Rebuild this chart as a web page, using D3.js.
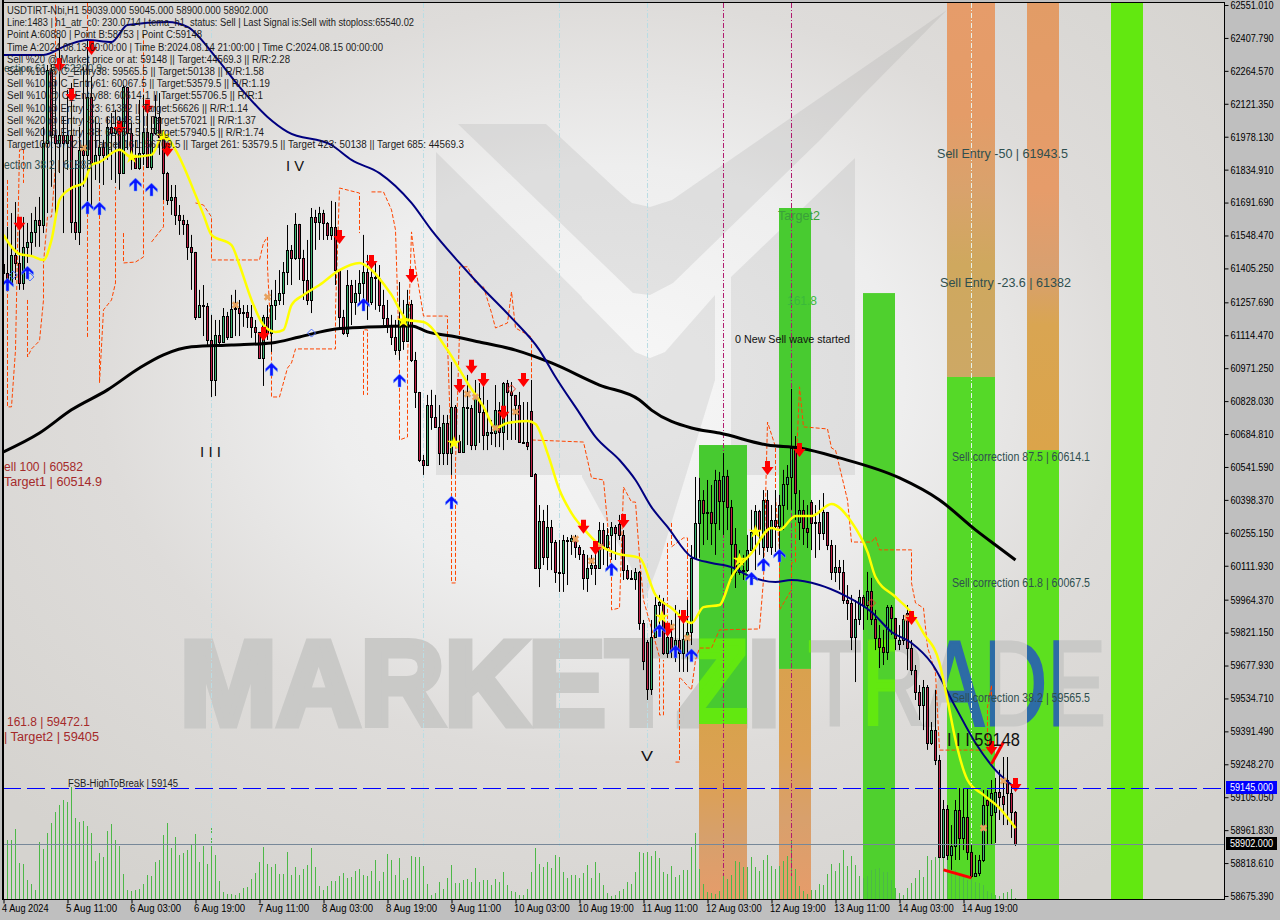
<!DOCTYPE html>
<html><head><meta charset="utf-8">
<script src="https://cdnjs.cloudflare.com/ajax/libs/d3/7.8.5/d3.min.js"></script>
<style>html,body{margin:0;padding:0;background:#bfbfbf}svg{display:block}text{font-family:"Liberation Sans",sans-serif}</style>
</head><body><svg id="c" width="1280" height="920"></svg>
<script>
const closes=[61385,61342,61464,61429,61342,61499,61520,61564,61616,61594,61951,62268,61986,61951,61986,61951,61986,61607,61564,61921,61899,62151,61864,61899,61934,61899,62021,61994,62021,61820,62195,61994,61890,61842,61907,61999,61847,61994,62064,61977,61820,61703,61716,61638,61616,61599,61499,61477,61194,61246,61242,61094,60920,61116,61085,61198,61107,61229,61233,61211,61216,61194,61151,61129,61016,61194,61124,61246,61268,61298,61390,61486,61451,61599,61451,61355,61268,61629,61607,61646,61603,61551,61586,61398,61194,61124,61333,61259,61298,61342,61390,61259,61368,61364,61246,61190,61159,61107,61051,61181,61090,61251,61007,60868,60572,60550,60811,60759,60716,60602,60733,60602,60803,60655,60607,60803,60798,60637,60842,60781,60681,60694,60689,60789,60694,60907,60868,60855,60811,60650,60650,60633,60502,60102,60307,60150,60281,60215,60085,60080,60224,60220,60233,60194,60163,60059,60102,60115,60102,60267,60194,60246,60281,60254,60246,60093,60059,60054,60085,59863,59698,59576,59802,59941,59954,59732,59802,59745,59789,59732,59793,59824,60146,60298,60398,60341,60346,60298,60485,60394,60502,60368,60207,60085,60093,60093,60180,60259,60350,60267,60398,60194,60311,60285,60376,60468,60498,60624,60428,60355,60276,60259,60298,60302,60254,60346,60202,60085,60106,60085,59963,59950,59802,59880,59976,59941,60002,59880,59798,59759,59737,59933,59885,59798,59789,59880,59754,59658,59563,59506,59585,59341,59397,59267,58845,59054,58854,58893,59050,58928,59019,58867,58762,58775,58832,59071,59071,59123,59128,59106,59076,59123,59041,58902];
const highs=[61499,61586,61646,61694,61603,61629,61603,61646,61673,61716,62021,62290,62290,62225,62412,62064,62182,62212,61877,62021,62282,62399,62238,62064,62038,61964,62064,62081,62095,62064,62203,62138,62038,61964,62138,62160,62138,62064,62160,62168,61977,61825,61768,61768,61681,61638,61616,61551,61464,61312,61333,61255,61203,61181,61181,61233,61216,61290,61312,61268,61246,61246,61246,61181,61124,61203,61246,61312,61355,61398,61433,61594,61507,61646,61594,61486,61529,61668,61660,61673,61660,61607,61699,61694,61398,61225,61398,61355,61355,61398,61551,61464,61433,61433,61420,61312,61268,61203,61181,61346,61268,61312,61268,61042,60868,60594,60855,60877,60855,60811,60768,60768,60998,60811,60681,60877,60942,60811,60920,60907,60920,60833,60746,60898,60824,60911,60920,60911,60855,60868,60824,60824,60920,60515,60376,60355,60376,60311,60224,60224,60246,60237,60246,60246,60202,60180,60159,60159,60224,60302,60298,60276,60302,60289,60333,60267,60115,60093,60102,60089,59876,59789,59876,59976,59985,59972,59854,59876,59941,59920,59876,59963,60202,60498,60494,60441,60485,60463,60529,60520,60602,60529,60398,60276,60180,60159,60246,60355,60376,60355,60441,60441,60376,60441,60420,60529,60550,60881,60676,60441,60398,60376,60398,60376,60398,60428,60333,60224,60202,60137,60137,60028,59985,59963,60007,59985,60085,60059,59920,59854,59833,59941,59941,59885,59854,59898,59941,59789,59680,59593,59615,59593,59432,59572,59289,59093,59071,58984,59093,59145,59145,59145,58897,58854,58854,59136,59136,59180,59189,59224,59280,59280,59158,59045];
const lows=[61325,61312,61368,61355,61312,61312,61429,61455,61499,61499,61559,61646,61760,61629,61820,61559,61834,61559,61529,61507,61760,61660,61673,61790,61777,61768,61877,61790,61777,61747,62008,61921,61834,61855,61834,61855,61877,61834,61986,61899,61703,61681,61638,61594,61551,61551,61442,61312,61181,61190,61111,61064,60846,60850,61072,61094,61094,61107,61111,61111,61151,61146,61103,61072,61011,60894,61094,61042,61181,61246,61246,61333,61333,61442,61355,61268,61246,61211,61486,61529,61529,61529,61529,61333,61138,61116,61107,61159,61203,61246,61268,61181,61246,61225,61216,61159,61124,61072,61029,61007,61051,61085,60998,60798,60563,60507,60637,60703,60716,60550,60550,60550,60507,60637,60607,60607,60637,60615,60615,60646,60615,60615,60637,60628,60628,60615,60659,60659,60659,60646,60650,60615,60502,60102,60019,60115,60093,60093,60037,59998,59998,60028,60159,60146,60137,60007,59998,60072,60028,60106,60115,60093,60137,60137,60224,60050,60050,60050,60007,59833,59658,59528,59550,59806,59854,59724,59711,59711,59693,59650,59650,59650,59767,60146,60146,60202,60224,60202,60159,60267,60246,60267,60050,60015,60072,60050,60085,60180,60093,60159,60093,60172,60159,60172,60172,60267,60355,60355,60311,60224,60202,60189,60180,60146,60180,60224,60180,60050,60041,60007,59946,59876,59745,59606,59854,59833,59876,59854,59745,59667,59680,59702,59811,59745,59745,59767,59658,59636,59528,59441,59397,59311,59332,59245,58841,58841,58832,58789,58832,58832,58875,58832,58754,58762,58762,58823,58897,58897,58906,59006,58984,58984,58928,58893];
const gapBars=[132,133,154,161,190,199,202,224,226,246,247,248,250,251];
const gapOpens=[60785,60511,60294,59780,60194,60302,60389,59772,59906,59093,59028,59041,59110,59180];
const volumes=[43,59,59,70,36,35,19,15,9,57,50,66,76,87,94,99,97,112,81,77,78,73,66,38,46,42,68,75,59,53,25,9,8,9,10,15,24,23,37,39,64,76,51,62,44,46,49,55,65,37,53,35,71,44,18,7,5,5,4,6,11,12,20,26,37,52,35,32,35,25,25,47,24,32,24,30,34,51,32,13,9,13,18,18,23,26,21,22,28,30,24,23,28,39,18,27,45,39,24,41,19,21,43,42,42,33,15,4,6,17,10,21,34,16,16,19,20,17,31,17,19,19,14,20,17,27,14,8,7,4,4,10,27,51,35,32,37,31,44,42,27,21,24,24,21,26,34,21,37,26,14,6,3,4,8,10,17,15,27,47,46,47,43,48,41,27,25,33,22,24,29,29,52,66,30,15,7,6,5,8,25,20,24,38,37,32,32,42,32,28,39,44,33,30,33,38,43,59,30,13,8,5,9,9,15,14,25,35,28,36,49,33,43,34,23,21,23,29,30,31,27,27,19,11,6,4,11,16,21,29,22,43,39,42,42,42,41,36,29,26,22,19,21,17,16,14,8,6,4,3,6,7,10,1];
const yellowBars=[0,2,4,7,10,12,14,17,20,22,24,29,32,37,40,43,48,50,52,57,59,62,65,68,70,72,75,79,84,89,92,97,101,105,111,116,120,123,126,131,133,136,139,142,146,149,153,159,163,167,172,175,179,182,187,192,194,198,202,207,212,216,218,223,227,230,234,236,238,241,245,249,253];
const yellowPrices=[61551,61499,61468,61459,61442,61529,61703,61755,61777,61855,61868,61921,61890,61899,61986,61921,61725,61638,61551,61507,61420,61268,61159,61129,61138,61246,61290,61333,61398,61429,61398,61290,61181,61172,61050,60907,60803,60711,60733,60742,60729,60602,60441,60341,60254,60202,60167,60146,59985,59928,59863,59932,59941,60063,60167,60276,60267,60328,60328,60381,60302,60172,60063,59976,59906,59819,59689,59528,59354,59180,59115,59058,58971];
const navyBars=[0,10,16,21,27,31,41,46,53,59,66,71,82,87,94,102,107,114,119,127,134,138,144,148,154,158,162,166,172,177,182,187,193,197,204,210,217,222,227,232,238,243,248,253];
const navyPrices=[62334,62334,62377,62399,62390,62464,62477,62456,62325,62195,62064,61999,61942,61877,61820,61690,61572,61429,61333,61190,61050,60933,60776,60672,60572,60485,60367,60281,60150,60124,60106,60063,60041,60050,60028,59985,59911,59824,59776,59689,59497,59341,59223,59145];
const blackBars=[0,9,17,26,34,40,47,57,67,74,83,91,102,106,112,119,128,137,149,159,162,172,179,191,199,209,224,234,243,249,253];
const blackPrices=[60607,60689,60790,60877,60972,61029,61064,61072,61081,61107,61142,61150,61155,61129,61111,61085,61050,60994,60898,60833,60789,60711,60689,60637,60624,60581,60494,60398,60268,60189,60137];
const dashSegments=[
 [[1,61790],[1,61268],[1,60803],[2,60803],[3,61050],[4,61921],[5,61921],[5,61777]],
 [[6,61268],[6,61020],[7,61055],[9,61090],[10,61268],[10,61429],[11,61629],[12,61629],[13,61847],[13,62560]],
 [[21,62560],[21,61107]],
 [[24,61820],[24,60907],[25,61225],[27,61268],[28,61342],[28,61760]],
 [[30,61559],[30,61429],[33,61433],[35,61455],[35,62429]],
 [[37,61520],[40,61586],[40,61847]],
 [[48,61690],[50,61681],[52,61629],[52,61442],[64,61442],[65,61516],[66,61542],[66,61412],[67,61064],[67,60846],[69,60846],[71,60972],[72,60994],[73,61055],[83,61055],[83,61225],[84,61755],[89,61733],[89,61559]],
 [[90,60855],[90,61138],[91,61138],[91,60855]],
 [[92,61738],[95,61738],[97,61660],[98,61573],[99,61007],[99,60659],[101,60672],[101,61007],[102,61564],[103,61412],[105,61198],[111,61198],[111,61081],[112,60572],[112,60181],[112,60037],[113,60037],[113,60559],[114,61124],[114,61412],[116,61412],[118,61342],[120,61325],[122,61212],[123,61146],[126,61168],[127,61303],[128,61146],[132,61107],[132,61007],[132,60659],[145,60650],[147,60494],[150,60485],[151,60298],[152,60080],[152,59920],[154,59928],[155,60454],[157,60389],[158,60389],[159,60150],[160,59963],[164,59715],[164,59463],[165,59463],[165,59702]],
 [[166,60211],[166,59846]],
 [[167,60298],[167,60194],[170,60233],[171,60233],[171,59833]],
 [[168,59258],[169,59258],[169,59628],[172,59571],[173,59702],[174,59754],[177,59754],[179,59833],[189,59837],[190,60050],[191,60737],[193,60629],[193,60411],[194,60181],[194,59920],[197,60007],[197,60124],[198,60128],[198,60472],[199,60890],[200,60716],[206,60707],[207,60624],[208,60615],[211,60398],[212,60215],[217,60215],[218,60237],[219,60181],[227,60181],[227,60037],[228,59950],[230,59928],[231,59758],[233,59645],[234,59310],[246,59310],[246,59497],[247,59593],[247,59541]]
];
const sellArrowBars=[4,22,17,14,36,29,41,84,92,102,65,117,114,120,130,125,145,148,155,191,199,247,253,166,227,170];
const sellArrowPrices=[61599,62364,62160,62290,62108,62016,61921,61542,61433,61372,61120,60977,60894,60920,60920,60777,60281,60189,60307,60537,60615,59319,59158,59833,59885,59889];
const buyArrowBars=[1,6,21,24,33,37,67,90,99,112,152,164,168,172,187,190,194];
const buyArrowPrices=[61333,61385,61668,61664,61768,61746,60964,61246,60916,60385,60094,59828,59737,59720,60054,60115,60154];
const starBars=[32,40,100,112.6,164.6,184,188];
const starPrices=[61890,61981,61177,60646,59889,60137,60259];
const crossBars=[20,58,66,116,118,128,123,143,149,147,167,171,226,245,250];
const crossPrices=[61929,61246,61281,60859,60846,60781,60711,60228,60194,60133,59846,59798,59885,58971,59176];
const hollowBuyBars=[2.4,6.6,77];
const hollowBuyPrices=[61377,61368,61124];
const hollowSellBars=[127,217];
const hollowSellPrices=[60881,59950];
const trendA=[[247,59250],[250,59345]];
const trendB=[[235,58789],[242,58754]];
const zoneStart=[174,194,215,236,256,277];
const zoneEnd=[186,202,223,248,264,285];
const zoneTop=[60637,61668,61298,62551,62551,62551];
const zoneSplit=[59424,59663,58662,60933,60615,62570];
const zoneOrder=[0,0,0,1,1,1];
const infoLines=["USDTIRT-Nbi,H1  59039.000 59045.000 58900.000 58902.000",
"Line:1483 | h1_atr_c0: 230.0714 | tema_h1_status: Sell | Last Signal is:Sell with stoploss:65540.02",
"Point A:60880 | Point B:58753 | Point C:59148",
"Time A:2024.08.13 00:00:00 | Time B:2024.08.14 21:00:00 | Time C:2024.08.15 00:00:00",
"Sell %20 @ Market price or at: 59148 || Target:44569.3 || R/R:2.28",
"Sell %10 @ C_Entry38: 59565.5 || Target:50138 || R/R:1.58",
"Sell %10 @ C_Entry61: 60067.5 || Target:53579.5 || R/R:1.19",
"Sell %10 @ C_Entry88: 60614.1 || Target:55706.5 || R/R:1",
"Sell %10 @ Entry -23: 61382 || Target:56626 || R/R:1.14",
"Sell %20 @ Entry -50: 61943.5 || Target:57021 || R/R:1.37",
"Sell %20 @ Entry -88: 62654.5 || Target:57940.5 || R/R:1.74",
"Target100: 57021 || Target 161: 56709.5 || Target 261: 53579.5 || Target 423: 50138 || Target 685: 44569.3"];
const infoWidths=[261,407,195,376,283,257,263,256,241,249,257,457];
const priceTicks=[62551.01,62407.79,62264.57,62121.35,61978.13,61834.91,61691.69,61548.47,61405.25,61257.69,61114.47,60971.25,60828.03,60684.81,60541.59,60398.37,60255.15,60111.93,59964.37,59821.15,59677.93,59534.71,59391.49,59248.27,59105.05,58961.83,58818.61,58675.39];
const timeBars=[0,16,32,48,64,80,96,112,128,144,160,176,192,208,224,240];
const timeLabels=["4 Aug 2024","5 Aug 11:00","6 Aug 03:00","6 Aug 19:00","7 Aug 11:00","8 Aug 03:00","8 Aug 19:00","9 Aug 11:00","10 Aug 03:00","10 Aug 19:00","11 Aug 11:00","12 Aug 03:00","12 Aug 19:00","13 Aug 11:00","14 Aug 03:00","14 Aug 19:00"];
const infoBar=[52,105,139,161,242];
const magentaBars=[180,197];

const L=3,T=3,R=1224,B=899;
const svg=d3.select("#c");
const x=d3.scaleLinear().domain([0,305]).range([3.5,1223.5]);
const y=d3.scaleLinear().domain([58675.39,62551.01]).range([896,5]);
const vol=d3.scaleLinear().domain([0,100]).range([B,B-100]);
const defs=svg.append("defs");
const g=defs.append("radialGradient").attr("id","bg").attr("cx",.5).attr("cy",.42).attr("r",.68);
[[0,"#f7f7f7"],[.35,"#eeeeee"],[.62,"#dedcda"],[1,"#d5d3cf"]].forEach(s=>g.append("stop").attr("offset",s[0]).attr("stop-color",s[1]));
function oGrad(id,stops){const o=defs.append("linearGradient").attr("id",id).attr("x1",0).attr("y1",0).attr("x2",0).attr("y2",1);
 stops.forEach(s=>o.append("stop").attr("offset",s[0]).attr("stop-color",s[1]));}
oGrad("o0",[[0,"#d8a24d"],[.35,"#dca055"],[.65,"#d6a06c"],[1,"#e69c6a"]]);
oGrad("o1",[[0,"#d9a14e"],[.35,"#dca055"],[.65,"#d8a06c"],[1,"#e69c6a"]]);
oGrad("o2",[[0,"#e69c6a"],[.3,"#e49c68"],[.5,"#d9a26c"],[.7,"#cfa85e"],[1,"#cda865"]]);
oGrad("o3",[[0,"#e29c66"],[.42,"#e69c6a"],[.6,"#d8a070"],[.72,"#d9a552"],[1,"#dba44a"]]);
defs.append("clipPath").attr("id","plot").append("rect").attr("x",L).attr("y",T).attr("width",R-L).attr("height",B-T);
const zoneW=i=>x(zoneEnd[i])-x(zoneStart[i]);
const greenCols=["#47ca30","#48cb30","#4fd02e","#55d928","#5de01f","#62e810"];
const cpGreen=defs.append("clipPath").attr("id","cGreen");
const cpBlue=defs.append("clipPath").attr("id","cBlue");
[0,1,2].forEach(i=>cpGreen.append("rect").attr("x",x(zoneStart[i])-.5).attr("y",y(zoneTop[i])).attr("width",zoneW(i)).attr("height",y(zoneSplit[i])-y(zoneTop[i])));
[3,4].forEach(i=>cpBlue.append("rect").attr("x",x(zoneStart[i])-.5).attr("y",y(zoneSplit[i])).attr("width",zoneW(i)).attr("height",B-y(zoneSplit[i])));

svg.append("rect").attr("width",1280).attr("height",920).attr("fill","#bfbfbf");
const plot=svg.append("g").attr("clip-path","url(#plot)");
plot.append("rect").attr("x",L).attr("y",T).attr("width",R-L).attr("height",B-T).attr("fill","url(#bg)");

// watermark logo
const logo=plot.append("g").attr("fill","rgba(140,140,140,.17)");
[[[458,124],[546,124],[617,190],[632,203],[650,207],[672,200],[947,10],[860,98],[820,140],[673,283],[650,295],[633,293]],
 [[436,152],[582,297],[582,475],[436,475]],
 [[731,277],[855,158],[855,475],[731,475]],
 [[582,298],[635,352],[650,358],[665,352],[715,295],[715,380],[660,560],[645,600],[630,565],[582,477]]
].forEach(p=>logo.append("polygon").attr("points",p.map(q=>q.join(",")).join(" ")));
function wm(parent,fill,clip){
 const h=parent.append("g"); if(clip)h.attr("clip-path","url(#"+clip+")");
 h.append("text").attr("x",180).attr("y",725).attr("font-size",120).attr("font-weight",700).attr("fill",fill).attr("stroke",fill).attr("stroke-width",7).attr("stroke-linejoin","miter")
  .attr("textLength",600).attr("lengthAdjust","spacingAndGlyphs").text("MARKETZI");
 h.append("text").attr("x",808).attr("y",725).attr("font-size",121).attr("fill",fill).attr("stroke",fill).attr("stroke-width",3)
  .attr("textLength",298).attr("lengthAdjust","spacingAndGlyphs").text("TRADE");
}
wm(plot,"#c9c9c7");

// zones
zoneStart.forEach((s,i)=>{
 const xx=x(s)-.5,w=zoneW(i);
 const t=y(zoneTop[i]), sp=y(zoneSplit[i]);
 if(zoneOrder[i]===0){
  plot.append("rect").attr("x",xx).attr("y",t).attr("width",w).attr("height",sp-t).attr("fill",greenCols[i]);
  if(i<2)plot.append("rect").attr("x",xx).attr("y",sp).attr("width",w).attr("height",B-sp).attr("fill","url(#o"+i+")");
 }else{
  if(i<5)plot.append("rect").attr("x",xx).attr("y",t-3).attr("width",w).attr("height",sp-t+3).attr("fill","url(#o"+(i-1)+")");
  plot.append("rect").attr("x",xx).attr("y",sp).attr("width",w).attr("height",B-sp).attr("fill",greenCols[i]);
 }
});
wm(plot,"#62e810","cGreen");
wm(plot,"#2d6ca5","cBlue");

// volumes
plot.append("g").selectAll("line").data(volumes).join("line")
 .attr("x1",(d,i)=>x(i)).attr("x2",(d,i)=>x(i)).attr("y1",vol(0)).attr("y2",d=>vol(d))
 .attr("stroke","#4db848").attr("stroke-width",1);

// vertical markers
plot.append("g").selectAll("line").data(infoBar).join("line")
 .attr("x1",d=>x(d)).attr("x2",d=>x(d)).attr("y1",T).attr("y2",846)
 .attr("stroke",d=>d===242?"#e6f2ec":"#b9dde4").attr("stroke-width",1).attr("stroke-dasharray","5,2,1,2");
plot.append("g").selectAll("line").data(magentaBars).join("line")
 .attr("x1",d=>x(d)).attr("x2",d=>x(d)).attr("y1",T).attr("y2",876)
 .attr("stroke","#b01a6e").attr("stroke-width",1).attr("stroke-dasharray","5,2,1,2");

// dashed envelope
const dl=d3.line().x(d=>x(d[0])).y(d=>y(d[1]));
plot.append("g").selectAll("path").data(dashSegments).join("path").attr("d",dl)
 .attr("fill","none").attr("stroke","#ff4500").attr("stroke-width",1).attr("stroke-dasharray","4,2");

// candles
const opens=closes.map((c,i)=>{const k=gapBars.indexOf(i);return k>=0?gapOpens[k]:(i?closes[i-1]:closes[0]+40);});
const cg=plot.append("g");
cg.selectAll("line").data(closes).join("line")
 .attr("x1",(d,i)=>x(i)).attr("x2",(d,i)=>x(i))
 .attr("y1",(d,i)=>y(Math.max(highs[i],d,opens[i]))).attr("y2",(d,i)=>y(Math.min(lows[i],d,opens[i])))
 .attr("stroke","#000").attr("stroke-width",1);
cg.selectAll("rect").data(closes).join("rect")
 .attr("x",(d,i)=>x(i)-1).attr("width",2)
 .attr("y",(d,i)=>Math.round(y(Math.max(d,opens[i])))+.5)
 .attr("height",(d,i)=>Math.max(1,Math.round(Math.abs(y(d)-y(opens[i])))))
 .attr("fill",(d,i)=>d>=opens[i]?"#3cb371":"#c01f45").attr("stroke","#000").attr("stroke-width",1);

// averages
function avg(bars,vals,col,w){
 const ln=d3.line().x(d=>x(d[0])).y(d=>y(d[1])).curve(d3.curveMonotoneX);
 plot.append("path").attr("d",ln(bars.map((b,i)=>[b,vals[i]]))).attr("fill","none").attr("stroke",col).attr("stroke-width",w);
}
avg(blackBars,blackPrices,"#000",3);
avg(navyBars,navyPrices,"#000080",2);
avg(yellowBars,yellowPrices,"#ffff00",2.5);

[trendA,trendB].forEach(t=>plot.append("path").attr("d",dl(t)).attr("stroke","#ff0000").attr("stroke-width",3).attr("fill","none"));

// signals
const at=(b,p)=>`translate(${x(b)},${y(p)})`;
plot.append("g").selectAll("path").data(crossBars).join("path")
 .attr("d",d3.symbol(d3.symbolCross,34)()).attr("transform",(d,i)=>at(d,crossPrices[i])+" rotate(45)").attr("fill","#e8a25e");
plot.append("g").selectAll("path").data(starBars).join("path")
 .attr("d",d3.symbol(d3.symbolStar,60)()).attr("transform",(d,i)=>at(d,starPrices[i])).attr("fill","#ffff00");
plot.append("g").selectAll("path").data(hollowBuyBars).join("path")
 .attr("d","M0,-4L4,0L0,4L-4,0Z").attr("transform",(d,i)=>at(d,hollowBuyPrices[i])).attr("fill","none").attr("stroke","#4a6cff");
plot.append("g").selectAll("path").data(hollowSellBars).join("path")
 .attr("d","M0,-4L4,0L0,4L-4,0Z").attr("transform",(d,i)=>at(d,hollowSellPrices[i])).attr("fill","none").attr("stroke","#e8402a");
plot.append("g").selectAll("path").data(sellArrowBars).join("path")
 .attr("d","M-2.5,-7H2.5V-1H6L0,7L-6,-1H-2.5Z").attr("transform",(d,i)=>at(d,sellArrowPrices[i])).attr("fill","#ff0000");
plot.append("g").selectAll("path").data(buyArrowBars).join("path")
 .attr("d","M0,-7L6,-1V2L1.5,-2V6H-1.5V-2L-6,2V-1Z").attr("transform",(d,i)=>at(d,buyArrowPrices[i])).attr("fill","#0a14ff").attr("stroke","#6fa8ff").attr("stroke-width",.5);

// levels
plot.append("line").attr("x1",L).attr("x2",R).attr("y1",Math.round(y(59145))+.5).attr("y2",Math.round(y(59145))+.5)
 .attr("stroke","#0000ff").attr("stroke-width",1).attr("stroke-dasharray","18,6");
plot.append("line").attr("x1",L).attr("x2",R).attr("y1",Math.round(y(58902))+.5).attr("y2",Math.round(y(58902))+.5)
 .attr("stroke","#778899").attr("stroke-width",1);

// annotations
function label(t,px,py,size,col,w){
 const e=plot.append("text").attr("x",px).attr("y",py).attr("font-size",size).attr("fill",col).text(t);
 if(w)e.attr("textLength",w).attr("lengthAdjust","spacingAndGlyphs");
}
label("ection 61.8 | 62200.9",4,72,11.5,"#2f4f4f",98);
label("ection 38.2 | 61885",4,169,12.5,"#2f4f4f",88);
label("I V",286,171,14,"#111",18);
label("I I I",200,457,14,"#111",21);
label("V",641,761,14,"#111",12);
label("ell 100 | 60582",4,471,12.5,"#a52a2a",79);
label("Target1 | 60514.9",4,486,12.5,"#a52a2a",98);
label("161.8 | 59472.1",7,726,12.5,"#a52a2a",83);
label("| Target2 | 59405",4,741,12.5,"#a52a2a",95);
label("FSB-HighToBreak  | 59145",68,787,10,"#222",110);
label("0 New Sell wave started",735,343,11.5,"#111",115);
label("Target2",778,220,12.5,"#3aa03a",42);
label("161.8",787,305,12.5,"#3aba3a",30);
label("Sell Entry -50 | 61943.5",937,158,13.5,"#2f4f4f",131);
label("Sell Entry -23.6 | 61382",940,287,13.5,"#2f4f4f",131);
label("Sell correction 87.5 | 60614.1",952,461,12,"#2f4f4f",138);
label("Sell correction 61.8 | 60067.5",952,587,12,"#2f4f4f",138);
label("Sell correction 38.2 | 59565.5",952,702,12,"#2f4f4f",138);
label("I I I 59148",947,746,18,"#111",73);
infoLines.forEach((t,i)=>label(t,7,14+i*12.2,10,"#1c1c1c",infoWidths[i]));

// frame
svg.append("rect").attr("x",2).attr("y",0).attr("width",2).attr("height",B).attr("fill","#000");
svg.append("line").attr("x1",2).attr("x2",R).attr("y1",2.5).attr("y2",2.5).attr("stroke","#000");
svg.append("line").attr("x1",2).attr("x2",R+.5).attr("y1",B+.5).attr("y2",B+.5).attr("stroke","#000");
svg.append("line").attr("x1",R+.5).attr("x2",R+.5).attr("y1",2).attr("y2",B+1).attr("stroke","#000");

// axes
const yAxis=d3.axisRight(y).tickValues(priceTicks).tickSize(4).tickFormat(d3.format(".3f"));
const ya=svg.append("g").attr("transform",`translate(${R+.5},0)`).call(yAxis);
ya.select(".domain").remove();
ya.selectAll("line").attr("stroke","#000");
ya.selectAll("text").attr("x",6).attr("fill","#000").attr("font-size",10.5).attr("textLength",43).attr("lengthAdjust","spacingAndGlyphs");
const xAxis=d3.axisBottom(x).tickValues(timeBars).tickSize(4).tickFormat((d,i)=>timeLabels[i]);
const xa=svg.append("g").attr("transform",`translate(0,${B+.5})`).call(xAxis);
xa.select(".domain").remove();
xa.selectAll("line").attr("stroke","#000");
xa.selectAll("text").attr("text-anchor","start").attr("dx",-2).attr("y",5).attr("fill","#000").attr("font-size",10.5)
 .attr("textLength",(d,i)=>timeLabels[i].length*4.65).attr("lengthAdjust","spacingAndGlyphs");

function tag(p,bg,t){
 const yy=Math.round(y(p));
 svg.append("rect").attr("x",1226).attr("y",yy-7).attr("width",51).attr("height",13).attr("fill",bg);
 svg.append("text").attr("x",1230).attr("y",yy+3).attr("font-size",10.5).attr("fill","#fff").attr("textLength",43).attr("lengthAdjust","spacingAndGlyphs").text(t);
}
tag(59145,"#0000ff","59145.000");
tag(58902,"#000","58902.000");
</script></body></html>
